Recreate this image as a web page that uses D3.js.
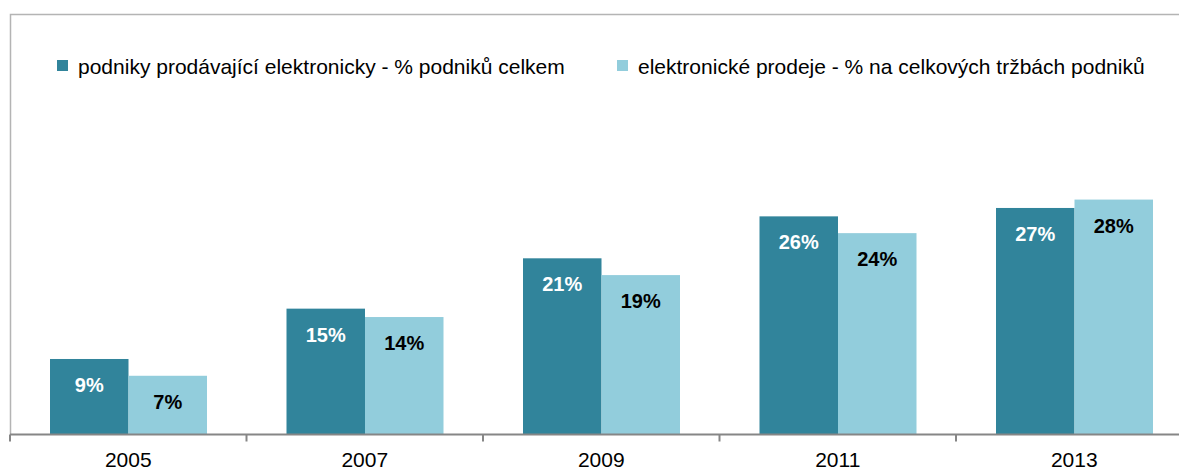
<!DOCTYPE html>
<html>
<head>
<meta charset="utf-8">
<script src="https://cdn.jsdelivr.net/npm/d3@7"></script>
<style>
  body { margin: 0; background: #fff; }
  svg { display: block; font-family: "Liberation Sans", Arial, sans-serif; }
</style>
</head>
<body>
<script>
var years = ["2005", "2007", "2009", "2011", "2013"];
var seriesNames = ["podniky prodávající elektronicky - % podniků celkem",
                   "elektronické prodeje - % na celkových tržbách podniků"];
var firms = [9, 15, 21, 26, 27];
var sales = [7, 14, 19, 24, 28];
var colors = ["#31849b", "#92cddc"];

var width = 1179, height = 468;
var x0 = 10, step = 236.5, baseY = 434.5;

var svg = d3.select("body").append("svg")
  .attr("width", width).attr("height", height);

// osa x - kategorie
var x = d3.scaleBand().domain(years)
  .range([x0, x0 + step * years.length])
  .paddingInner(0).paddingOuter(0);
var xs = d3.scaleBand().domain([0, 1])
  .range([40, 40 + 157]);
var y = d3.scaleLinear().domain([0, 50]).range([baseY, 15]);

// ramecek
svg.append("path")
  .attr("d", "M" + (x0 + 0.5) + "," + baseY + "V14.5H" + width)
  .attr("fill", "none").attr("stroke", "#b4b4b4").attr("stroke-width", 1.5);

var data = years.map((yr, i) => ({year: yr, vals: [firms[i], sales[i]]}));

var g = svg.selectAll("g.grp")
  .data(data).enter().append("g")
  .attr("class", "grp")
  .attr("transform", d => "translate(" + x(d.year) + ",0)");

g.selectAll("rect")
  .data(d => d.vals).enter().append("rect")
  .attr("x", (d, i) => xs(i))
  .attr("y", d => y(d))
  .attr("width", xs.bandwidth())
  .attr("height", d => baseY - y(d))
  .attr("fill", (d, i) => colors[i]);

g.selectAll("text")
  .data(d => d.vals).enter().append("text")
  .attr("x", (d, i) => xs(i) + xs.bandwidth() / 2)
  .attr("y", d => y(d) + 33)
  .attr("text-anchor", "middle")
  .attr("font-size", 20).attr("font-weight", "bold")
  .attr("fill", (d, i) => i == 0 ? "#fff" : "#000")
  .text(d => d + "%");

// osa
var axis = d3.axisBottom(x).tickSize(0).tickFormat(d => d);
var ax = svg.append("g").attr("transform", "translate(0," + baseY + ")").call(axis);
ax.select(".domain").attr("stroke", "#868686").attr("stroke-width", 2)
  .attr("d", "M" + x0 + ",0H" + width);
ax.selectAll(".tick text").attr("font-size", 21).attr("fill", "#000")
  .attr("font-family", "Liberation Sans, Arial, sans-serif")
  .attr("dy", 0).attr("y", 32);
ax.selectAll(".bnd").data(years).enter().append("line")
  .attr("x1", d => x(d)).attr("x2", d => x(d))
  .attr("y1", 0).attr("y2", 7)
  .attr("stroke", "#868686").attr("stroke-width", 2);

// legenda
var legX = [57, 617];
var leg = svg.selectAll("g.leg").data(seriesNames).enter().append("g")
  .attr("class", "leg")
  .attr("transform", (d, i) => "translate(" + legX[i] + ",60)");
leg.append("rect").attr("width", 11).attr("height", 11)
  .attr("fill", (d, i) => colors[i]);
leg.append("text").attr("x", 21).attr("y", 14)
  .attr("font-size", 21).attr("fill", "#000")
  .text(d => d);
</script>
</body>
</html>
